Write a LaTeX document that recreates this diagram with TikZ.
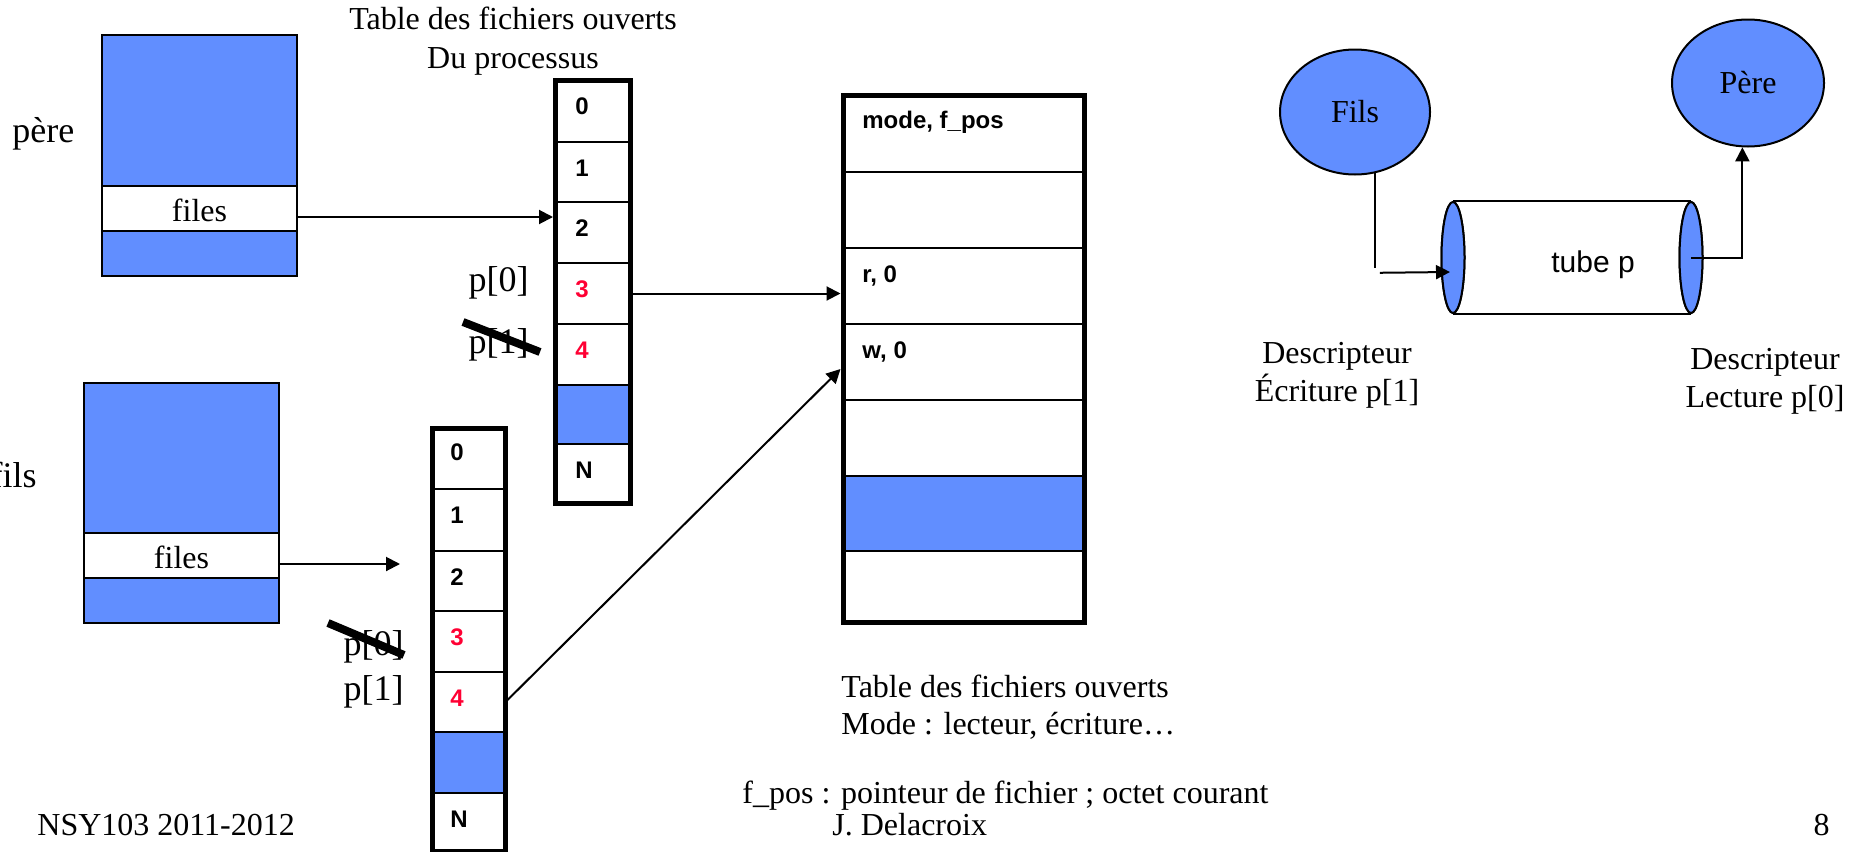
\documentclass[tikz,border=0pt]{standalone}
\usepackage{fontspec}
\setmainfont{Liberation Serif}
\newfontfamily\arialf{Liberation Sans}
\usetikzlibrary{arrows.meta,shapes.geometric,fit,calc}
\definecolor{fblue}{RGB}{97,142,255}
\definecolor{fred}{RGB}{255,0,51}
\begin{document}
\begin{tikzpicture}[x=0.5pt,y=-0.5pt,
  cell/.style={draw=black, line width=1pt, inner sep=0pt, outer sep=0pt},
  frame/.style={draw=black, line width=2.5pt, inner sep=0pt, outer sep=0pt},
  pbox/.style={draw=black, line width=1.3pt, inner sep=0pt, outer sep=0pt},
  serif/.style={font=\fontsize{16}{19}\selectfont, inner sep=0pt},
  big/.style={font=\fontsize{18}{21}\selectfont, inner sep=0pt},
  idx/.style={font=\arialf\bfseries\fontsize{12}{14}\selectfont, inner sep=0pt, anchor=base west},
  arr/.style={line width=1pt, -{Triangle[length=7pt,width=7pt]}},
  proc/.style={ellipse, draw=black, line width=1pt, fill=fblue, inner sep=0pt, font=\fontsize{16}{19}\selectfont},
  endcap/.style={ellipse, draw=black, line width=1pt, fill=fblue, inner sep=0pt, minimum width=11.5pt, minimum height=55.5pt},
  strike/.style={line width=4pt}]

\useasboundingbox (0,0) rectangle (1857,851);
\clip (0,0) rectangle (1857,851);

% ---------- process "pere" ----------
\node[big, anchor=base west] (lpere) at (12,142) {père};
\node[pbox, fill=fblue, fit={(102,35) (297,186)}] (ptop) {};
\node[pbox, fill=white, fit={(102,186) (297,231)}] (pfiles) {};
\node[pbox, fill=fblue, fit={(102,231) (297,276)}] (pbot) {};
\node[serif, anchor=base] (pfilesl) at (199.5,221) {files};

% ---------- process "fils" ----------
\node[big, anchor=base east] (lfils) at (37,487) {fils};
\node[pbox, fill=fblue, fit={(84,383) (279,533)}] (ctop) {};
\node[pbox, fill=white, fit={(84,533) (279,578)}] (cfiles) {};
\node[pbox, fill=fblue, fit={(84,578) (279,623)}] (cbot) {};
\node[serif, anchor=base] (cfilesl) at (181.5,568) {files};

% ---------- descriptor table of the father ----------
\node[serif, anchor=base] (cap1a) at (513,29.5) {Table des fichiers ouverts};
\node[serif, anchor=base] (cap1b) at (513,68) {Du processus};
\node[cell, fit={(555.5,80) (630,142)}] (t1r0) {};
\node[cell, fit={(555.5,142) (630,202)}] (t1r1) {};
\node[cell, fit={(555.5,202) (630,263)}] (t1r2) {};
\node[cell, fit={(555.5,263) (630,324)}] (t1r3) {};
\node[cell, fit={(555.5,324) (630,385)}] (t1r4) {};
\node[cell, fill=fblue, fit={(555.5,385) (630,444)}] (t1r5) {};
\node[cell, fit={(555.5,444) (630,503.5)}] (t1r6) {};
\node[frame, fit={(555.5,80) (630,503.5)}] (t1) {};
\node[idx] (t1n0) at (575,114) {0};
\node[idx] (t1n1) at (575,176) {1};
\node[idx] (t1n2) at (575,236) {2};
\node[idx, text=fred] (t1n3) at (575,297) {3};
\node[idx, text=fred] (t1n4) at (575,358) {4};
\node[idx] (t1nN) at (575,478) {N};
\node[big, anchor=base east] (pp0) at (529,291.5) {p[0]};
\node[big, anchor=base east] (pp1) at (529,353) {p[1]};
\draw[strike] (463,322) -- (540,352);

% ---------- descriptor table of the child ----------
\node[cell, fit={(432,428.5) (505.5,489)}] (t2r0) {};
\node[cell, fit={(432,489) (505.5,551)}] (t2r1) {};
\node[cell, fit={(432,551) (505.5,611)}] (t2r2) {};
\node[cell, fit={(432,611) (505.5,672)}] (t2r3) {};
\node[cell, fit={(432,672) (505.5,732)}] (t2r4) {};
\node[cell, fill=fblue, fit={(432,732) (505.5,793)}] (t2r5) {};
\node[cell, fit={(432,793) (505.5,851.5)}] (t2r6) {};
\node[frame, fit={(432,428.5) (505.5,851.5)}] (t2) {};
\node[idx] (t2n0) at (450,460) {0};
\node[idx] (t2n1) at (450,523) {1};
\node[idx] (t2n2) at (450,585) {2};
\node[idx, text=fred] (t2n3) at (450,645) {3};
\node[idx, text=fred] (t2n4) at (450,706) {4};
\node[idx] (t2nN) at (450,827) {N};
\node[big, anchor=base east] (cp0) at (404,655) {p[0]};
\node[big, anchor=base east] (cp1) at (404,700) {p[1]};
\draw[strike] (328,623) -- (404,655);

% ---------- open file table ----------
\node[cell, fit={(843,95) (1084,172)}] (of0) {};
\node[cell, fit={(843,172) (1084,248)}] (of1) {};
\node[cell, fit={(843,248) (1084,324)}] (of2) {};
\node[cell, fit={(843,324) (1084,400)}] (of3) {};
\node[cell, fit={(843,400) (1084,476)}] (of4) {};
\node[cell, fill=fblue, fit={(843,476) (1084,551)}] (of5) {};
\node[cell, fit={(843,551) (1084,622)}] (of6) {};
\node[frame, fit={(843,95) (1084,622)}] (oft) {};
\node[idx] (ofl0) at (862,128) {mode, f\_pos};
\node[idx] (ofl2) at (862,282) {r, 0};
\node[idx] (ofl3) at (862,358) {w, 0};
\node[serif, anchor=base west] (cap2a) at (841,697) {Table des fichiers ouverts};
\node[serif, anchor=base west] (cap2b) at (841,734) {Mode : lecteur, écriture…};
\node[serif, anchor=base west] (note) at (742,803) {f\_pos : pointeur de fichier ; octet courant};

% ---------- links between tables ----------
\draw[arr] ($(pfiles.east)+(0,8.5)$) -- ($(t1r2.west)+(-2.5,-15.5)$);
\coordinate (cfend) at (400,564);
\draw[arr] ($(cfiles.east)+(0,8.5)$) -- (cfend);
\draw[arr, shorten >=1.25pt] (t1r3.east) -- (t1r3.east -| oft.west);
\draw[arr] (t2r4.east) -- ($(of3.west)+(-2.5,7)$);

% ---------- pipe view ----------
\node[proc, minimum width=75pt, minimum height=62.5pt] (fils) at (1355,112) {Fils};
\node[proc, minimum width=76pt, minimum height=63.5pt] (pere) at (1748,83) {Père};
\node[endcap] (lcap) at (1453,257.5) {};
\node[endcap] (rcap) at (1691,257.5) {};
\draw[line width=1pt] (lcap.north) -- (rcap.north);
\draw[line width=1pt] (lcap.south) -- (rcap.south);
\node[endcap] at (lcap) {};
\node[endcap] at (rcap) {};
\node[font=\arialf\fontsize{15}{18}\selectfont, anchor=base, inner sep=0pt] (tube) at (1593,272) {tube p};
\draw[line width=1pt] (fils.-72.6) -- ++(0,95);
\draw[arr] ($(fils.-72.6)+(5,99.5)$) -- ($(lcap.center)+(-3,14.5)$);
\draw[arr] (rcap.center) -| (pere.-95.4);
\node[serif, anchor=base] (dw1) at (1337,363) {Descripteur};
\node[serif, anchor=base] (dw2) at (1337,401) {Écriture p[1]};
\node[serif, anchor=base] (dr1) at (1765,369) {Descripteur};
\node[serif, anchor=base] (dr2) at (1765,407) {Lecture p[0]};

% ---------- footer ----------
\node[serif, anchor=base west] (course) at (37,835) {NSY103 2011-2012};
\node[serif, anchor=base west] (author) at (832,835) {J. Delacroix};
\node[serif, anchor=base east] (page) at (1830,835) {8};
\end{tikzpicture}
\end{document}
